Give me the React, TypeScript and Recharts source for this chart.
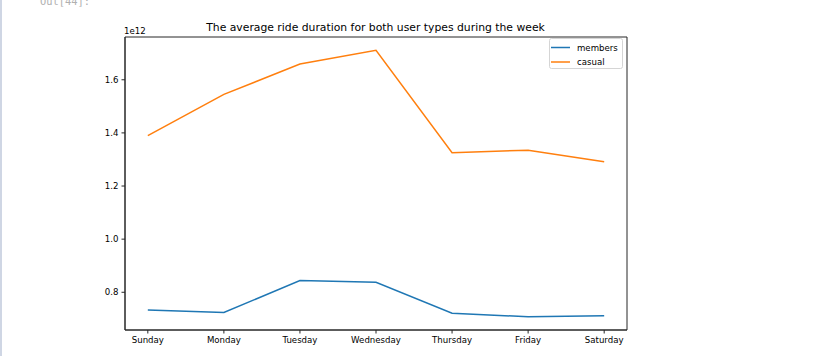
import React from "react";
import { LineChart, Line, XAxis, YAxis, Legend, ReferenceArea } from "recharts";

const days = ["Sunday", "Monday", "Tuesday", "Wednesday", "Thursday", "Friday", "Saturday"];
const members = [0.733e12, 0.724e12, 0.844e12, 0.838e12, 0.721e12, 0.708e12, 0.712e12];
const casual = [1.39e12, 1.545e12, 1.659e12, 1.711e12, 1.325e12, 1.335e12, 1.291e12];
const yTicks = [0.8e12, 1.0e12, 1.2e12, 1.4e12, 1.6e12];

const data = days.map((day, i) => ({
  idx: i,
  day,
  members: members[i],
  casual: casual[i],
}));

const BLUE = "#1f77b4";
const ORANGE = "#ff7f0e";
const FONT = "'DejaVu Sans', sans-serif";
const AXIS = "#262626";
const xDomain: [number, number] = [-0.3, 6.3];
const yDomain: [number, number] = [0.658e12, 1.761e12];

const LegendBox = () => (
  <svg width={75} height={32} style={{ display: "block" }}>
    <rect x={0.5} y={0.5} width={73} height={30} rx={2} fill="#fff" stroke="#d5d5d5" />
    <line x1={2} x2={21} y1={9.5} y2={9.5} stroke={BLUE} strokeWidth={1.5} />
    <line x1={2} x2={21} y1={24} y2={24} stroke={ORANGE} strokeWidth={1.5} />
    <text x={28} y={12.5} fontSize={8.6} fontFamily={FONT} fill="#000">members</text>
    <text x={28} y={27} fontSize={8.6} fontFamily={FONT} fill="#000">casual</text>
  </svg>
);

export default function App() {
  return (
    <div
      style={{
        position: "absolute",
        left: 0,
        top: 0,
        width: 832,
        height: 356,
        background: "#fff",
        fontFamily: FONT,
        overflow: "hidden",
      }}
    >
      <div style={{ position: "absolute", left: 0, top: 0, width: 2, height: 356, background: "#cfd6e4" }} />
      <svg width={832} height={356} style={{ position: "absolute", left: 0, top: 0, pointerEvents: "none" }}>
        <text x={40} y={5} fontSize={10.4} fontFamily="'DejaVu Sans Mono', monospace" fill="#b0b0b0">
          Out[44]:
        </text>
        <text x={375.5} y={30.5} fontSize={10.8} fontFamily={FONT} textAnchor="middle" fill="#000">
          The average ride duration for both user types during the week
        </text>
        <text x={124} y={34} fontSize={8.6} fontFamily={FONT} fill="#000">
          1e12
        </text>
      </svg>
      <LineChart
        width={832}
        height={356}
        data={data}
        margin={{ top: 37, right: 205, bottom: 6, left: 85 }}
      >
        <XAxis
          xAxisId="b"
          dataKey="idx"
          type="number"
          domain={xDomain}
          ticks={[0, 1, 2, 3, 4, 5, 6]}
          interval={0}
          allowDataOverflow
          tickFormatter={(v: number) => days[v]}
          height={20}
          tickSize={3.5}
          tickMargin={3}
          stroke={AXIS}
          tick={{ fill: "#000", fontSize: 8.6, fontFamily: FONT }}
        />
        <YAxis
          yAxisId="l"
          domain={yDomain}
          ticks={yTicks}
          allowDataOverflow
          tickFormatter={(v: number) => (v / 1e12).toFixed(1)}
          width={40}
          tickSize={3.5}
          tickMargin={3}
          stroke={AXIS}
          tick={{ fill: "#000", fontSize: 8.6, fontFamily: FONT }}
        />
        <ReferenceArea
          xAxisId="b"
          yAxisId="l"
          x1={xDomain[0]}
          x2={xDomain[1]}
          y1={yDomain[0]}
          y2={yDomain[1]}
          fill="none"
          fillOpacity={0}
          stroke={AXIS}
          strokeWidth={1}
          ifOverflow="visible"
        />
        <Legend
          layout="vertical"
          align="center"
          verticalAlign="middle"
          content={() => <LegendBox />}
          wrapperStyle={{ position: "absolute", left: 549, top: 38, width: 75, height: 32 }}
        />
        <Line
          xAxisId="b"
          yAxisId="l"
          dataKey="members"
          stroke={BLUE}
          strokeWidth={1.5}
          dot={false}
          isAnimationActive={false}
        />
        <Line
          xAxisId="b"
          yAxisId="l"
          dataKey="casual"
          stroke={ORANGE}
          strokeWidth={1.5}
          dot={false}
          isAnimationActive={false}
        />
      </LineChart>
    </div>
  );
}
